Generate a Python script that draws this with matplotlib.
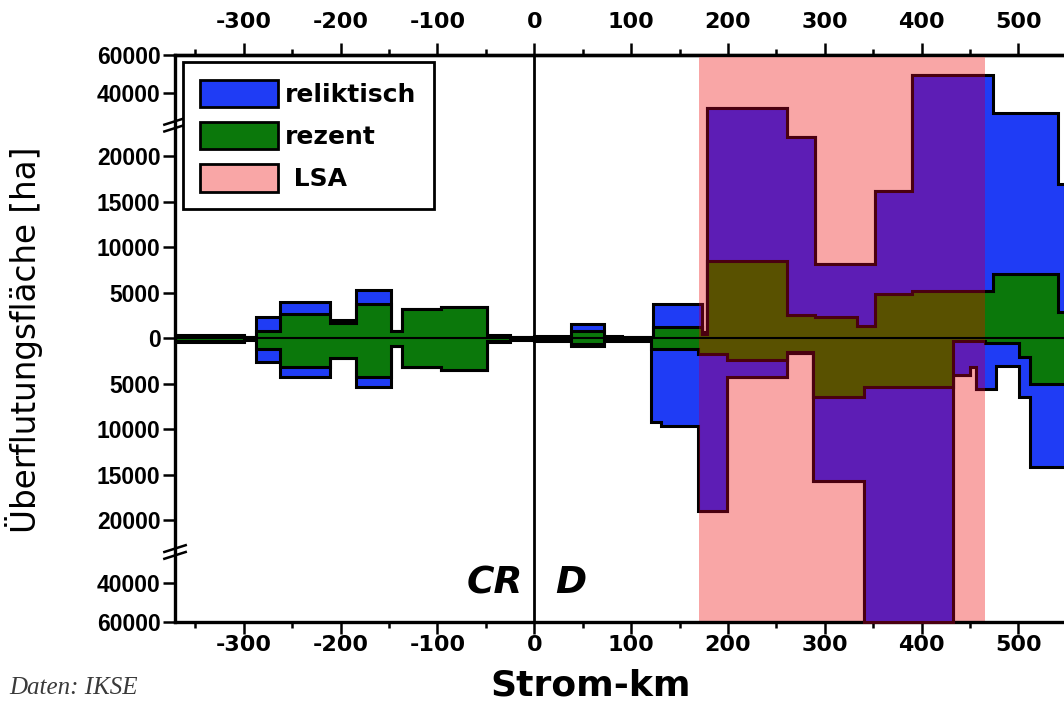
import numpy as np
import matplotlib
matplotlib.use('Agg')
import matplotlib.pyplot as plt
from matplotlib.patches import Patch, Rectangle
from matplotlib.ticker import FixedLocator, MultipleLocator, FuncFormatter

plt.rcParams['axes.unicode_minus'] = False

# Stufenkanten (Strom-km) und Überflutungsflächen [ha]
# oben: nach oben aufgetragen, unten: nach unten aufgetragen
km_oben = [-371, -300, -287, -263, -211, -184, -148, -137, -96, -49, -25, 0,
           38, 72, 91, 123, 172.7, 178, 260.5, 290, 333, 352, 390, 474, 541, 548]
reliktisch_oben = [350, 150, 2400, 4000, 2000, 5300, 800, 3200, 3450, 350, 150,
                   300, 1600, 300, 200, 3800, 700, 32400, 22100, 8150, 8150,
                   16200, 49500, 29700, 17000]
rezent_oben = [250, 100, 800, 2700, 1700, 3800, 800, 3200, 3450, 250, 100,
               200, 850, 200, 150, 1200, 500, 8500, 2600, 2300, 1400,
               4850, 5250, 7050, 2900]

km_unten = [-371, -300, -287, -263, -211, -184, -148, -137, -96, -49, -25, 0,
            38, 72, 91, 121, 131, 169.5, 198.5, 260.5, 288, 340, 432.7, 450,
            456, 465, 477, 501, 512, 548]
reliktisch_unten = [350, 150, 2550, 4300, 2200, 5400, 800, 3200, 3500, 350, 150,
                    300, 800, 300, 300, 9250, 9600, 19000, 4300, 1600, 15700,
                    60000, 4000, 3200, 5600, 5600, 3000, 6500, 14200]
rezent_unten = [250, 100, 1200, 3200, 2200, 4200, 800, 3200, 3500, 250, 100,
                200, 600, 200, 200, 1200, 1200, 1750, 2400, 1550, 6400,
                5300, 300, 300, 300, 500, 500, 2000, 5000]

lsa_km = [170, 465]

y_ticks = [-60000, -40000, -20000, -15000, -10000, -5000, 0,
           5000, 10000, 15000, 20000, 40000, 60000]
x_ticks = [-300, -200, -100, 0, 100, 200, 300, 400, 500]

blau = '#1f3cf5'
gruen = '#0b780b'
lila = '#5d1db5'
oliv = '#595100'
rosa = '#f9a6a6'
rand_lsa = '#4a0010'

# unterbrochene y-Achse: oberhalb von 23500 gestaucht
B, K = 23500.0, 0.21


def vor(y):
    y = np.asarray(y, dtype=float)
    a = np.abs(y)
    return np.where(a <= B, y, np.sign(y) * (B + (a - B) * K))


def rueck(t):
    t = np.asarray(t, dtype=float)
    a = np.abs(t)
    return np.where(a <= B, t, np.sign(t) * (B + (a - B) / K))


fig = plt.figure(figsize=(10.64, 7.05), dpi=100)
ax = fig.add_axes([0.1645, 0.1182, 0.8355, 0.8038])
ax.set_yscale('function', functions=(vor, rueck))
ax.set_xlim(-371, 547)
ax.set_ylim(-60000, 60000)

ax.axvspan(lsa_km[0], lsa_km[1], color=rosa, lw=0, zorder=0.5)
clip = Rectangle((lsa_km[0], -70000), lsa_km[1] - lsa_km[0], 140000,
                 transform=ax.transData)

for kanten, rel, rez, vz in [(km_oben, reliktisch_oben, rezent_oben, 1),
                             (km_unten, reliktisch_unten, rezent_unten, -1)]:
    rel = vz * np.array(rel, dtype=float)
    rez = vz * np.array(rez, dtype=float)
    ax.stairs(rel, kanten, fill=True, facecolor=blau, edgecolor='black', lw=2.2, zorder=2)
    ax.stairs(rez, kanten, fill=True, facecolor=gruen, edgecolor='black', lw=2.2, zorder=2.1)
    p = ax.stairs(rel, kanten, fill=True, facecolor=lila, edgecolor=rand_lsa, lw=2.2, zorder=3)
    p.set_clip_path(clip)
    p = ax.stairs(rez, kanten, fill=True, facecolor=oliv, edgecolor=rand_lsa, lw=2.2, zorder=3.1)
    p.set_clip_path(clip)

ax.axhline(0, color='black', lw=1.5, zorder=3.5)
ax.axvline(0, color='black', lw=2, zorder=4)

# Achsen
for s in ['left', 'top', 'bottom']:
    ax.spines[s].set_linewidth(2.4)
ax.spines['right'].set_visible(False)

ax.yaxis.set_major_locator(FixedLocator(y_ticks))
ax.yaxis.set_minor_locator(FixedLocator([]))
ax.yaxis.set_major_formatter(FuncFormatter(lambda v, p: f'{abs(v):.0f}'))
ax.xaxis.set_major_locator(FixedLocator(x_ticks))
ax.xaxis.set_minor_locator(MultipleLocator(50))

ax.tick_params(axis='both', which='major', direction='out', length=8.5, width=1.8,
               labelsize=16)
ax.tick_params(axis='x', which='minor', direction='out', length=4.5, width=1.8)
ax.tick_params(axis='x', pad=1)
ax.tick_params(axis='y', pad=2)
for lab in ax.get_xticklabels():
    lab.set_fontweight('bold')
for lab in ax.get_yticklabels():
    lab.set_fontweight('bold')
    lab.set_family('Liberation Sans')
    lab.set_fontsize(16.5)

oben = ax.secondary_xaxis('top')
oben.set_xticks(x_ticks)
oben.xaxis.set_minor_locator(MultipleLocator(50))
oben.spines['top'].set_linewidth(2.4)
oben.tick_params(axis='x', which='major', direction='out', length=8.5, width=1.8,
                 labelsize=16, pad=8)
oben.tick_params(axis='x', which='minor', direction='out', length=4.5, width=1.8)
for lab in oben.get_xticklabels():
    lab.set_fontweight('bold')

# Achsenbruch-Markierungen
yb = (vor(B) - vor(-60000)) / (vor(60000) - vor(-60000))
for yy in [yb, 1 - yb]:
    for d in [-0.006, 0.006]:
        ax.plot([-0.012, 0.012], [yy + d - 0.006, yy + d + 0.006], transform=ax.transAxes,
                color='black', lw=1.8, clip_on=False, zorder=6)

ax.set_xlabel('Strom-km', fontsize=26, fontweight='bold')
ax.xaxis.set_label_coords(0.467, -0.082)
ax.set_ylabel('Überflutungsfläche [ha]', fontsize=23.5)
ax.yaxis.set_label_coords(-0.148, 0.497)

ax.text(-12, -40000, 'CR', fontsize=27, fontweight='bold', fontstyle='italic',
        ha='right', va='center', zorder=5)
ax.text(22, -40000, 'D', fontsize=27, fontweight='bold', fontstyle='italic',
        ha='left', va='center', zorder=5)

fig.text(0.009, 0.024, 'Daten: IKSE', fontsize=18, fontstyle='italic',
         family='Liberation Serif', color='#3a3a3a', va='center')

griffe = [Patch(facecolor=blau, edgecolor='black', lw=2, label='reliktisch'),
          Patch(facecolor=gruen, edgecolor='black', lw=2, label='rezent'),
          Patch(facecolor=rosa, edgecolor='black', lw=2, label=' LSA')]
leg = ax.legend(handles=griffe, loc='upper left', frameon=True,
                fancybox=False, edgecolor='black', handlelength=3.1,
                handleheight=1.3, handletextpad=0.3, labelspacing=0.6,
                borderpad=0.7, borderaxespad=0.3, prop={'weight': 'bold', 'size': 18})
leg.get_frame().set_linewidth(2)
leg.get_frame().set_alpha(1)
leg.set_zorder(10)

fig.savefig('out.png', dpi=100)
